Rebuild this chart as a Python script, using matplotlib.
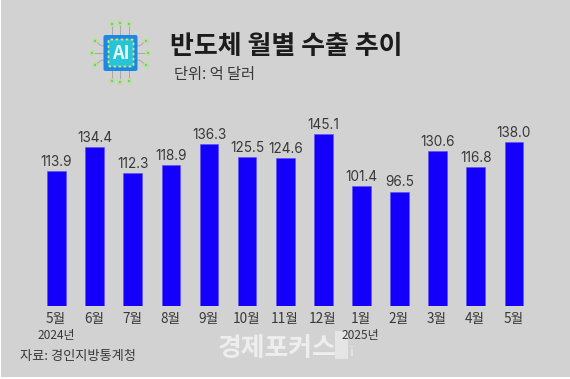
import matplotlib
matplotlib.use("Agg")
import matplotlib.pyplot as plt
from matplotlib.patches import FancyBboxPatch, Circle, Rectangle

plt.rcParams['font.family'] = ['Noto Sans CJK KR', 'DejaVu Sans']

months = ['5월', '6월', '7월', '8월', '9월', '10월', '11월', '12월', '1월', '2월', '3월', '4월', '5월']
values = [113.9, 134.4, 112.3, 118.9, 136.3, 125.5, 124.6, 145.1, 101.4, 96.5, 130.6, 116.8, 138.0]
years = {0: '2024년', 8: '2025년'}
title = '반도체 월별 수출 추이'
unit = '단위: 억 달러'
source = '자료: 경인지방통계청'
mark = '경제포커스'

W, H = 570, 379
BG = '#d2d2d2'
TXT = '#383838'
fig = plt.figure(figsize=(W / 100, H / 100), dpi=100, facecolor='white')

# page overlay in pixel coordinates
pg = fig.add_axes([0, 0, 1, 1], zorder=0)
pg.set_xlim(0, W); pg.set_ylim(H, 0); pg.axis('off')
pg.add_patch(Rectangle((1, 0), W - 1, H - 2, fc=BG, ec='none'))

# chart
L, R, T, B = 37.5, 533, 100, 306
ax = fig.add_axes([L / W, 1 - B / H, (R - L) / W, (B - T) / H], zorder=1)
ax.patch.set_alpha(0)
ax.set_xlim(-0.5, 12.5)
ax.set_ylim(0, (B - T) / 1.186)
ax.axis('off')
xs = list(range(len(values)))
bars = ax.bar(xs, values, width=0.49, color='#1400fa', edgecolor='#5a50f0', linewidth=0.4)
for x, v, m in zip(xs, values, months):
    ax.annotate(f'{v:.1f}', (x, v), xytext=(0, 1.5), textcoords='offset points',
                ha='center', va='bottom', fontsize=9.8, color=TXT, family=['Inter', 'DejaVu Sans'])
    ax.annotate(m, (x, 0), xytext=(-0.5, -4.5), textcoords='offset points',
                ha='center', va='top', fontsize=9.8, color=TXT)
for i, y in years.items():
    ax.annotate(y, (i, 0), xytext=(-0.5, -16.5), textcoords='offset points',
                ha='center', va='top', fontsize=8.6, color=TXT)

# texts
pg.text(170, 47, title, fontsize=18.7, fontweight='bold', color='#1c1c1c', va='center', ha='left')
pg.text(174, 75, unit, fontsize=11, color=TXT, va='center', ha='left')
pg.text(20, 356.5, source, fontsize=9.5, color=TXT, va='center', ha='left')

# watermark
pg.text(218, 349, mark, fontsize=18.6, fontweight='bold', color='#eeeeee', va='center', ha='left', zorder=5)
pg.add_patch(Rectangle((335, 331), 13, 28, fc='#e8e8e8', ec='none', alpha=0.9, zorder=5))
pg.text(351, 352, 'i', fontsize=9, fontweight='bold', color='#e6e6e6', va='center', ha='center', zorder=5)

# AI chip icon
for cx, cy in [(112, 24), (120, 23), (129, 24), (112, 81), (120, 82), (129, 81),
               (95, 41), (92, 53), (95, 65), (146, 41), (148, 53), (146, 65)]:
    if cy in (41, 53, 65):
        ey = 53 + (cy - 53) * 0.6
        pg.plot([cx, cx + (120.5 - cx) * 0.25, 120], [cy, ey, ey], color='#a8a8a8', lw=0.7, zorder=2)
    else:
        pg.plot([cx, cx], [cy, 53], color='#a8a8a8', lw=0.7, zorder=2)
    pg.add_patch(Circle((cx, cy), 2.8, fc='#bfe08a', ec='none', zorder=3))
    pg.add_patch(Circle((cx, cy), 1.1, fc='#5fc7b0', ec='none', zorder=3))
pg.add_patch(FancyBboxPatch((103.5, 35), 34, 36, boxstyle='round,pad=0,rounding_size=2', fc='#1b88e6', ec='none', zorder=3))
pg.add_patch(FancyBboxPatch((108.5, 39.5), 25, 27, boxstyle='round,pad=0,rounding_size=2', fc='#27c4d8', ec='#d5e76a', lw=1.3, ls=(0, (1.5, 1.3)), zorder=4))
pg.text(121, 53.5, 'AI', fontsize=13, fontweight='bold', color='#e8f6f4', ha='center', va='center', zorder=5)

fig.savefig('out.png', dpi=100, facecolor='white')
